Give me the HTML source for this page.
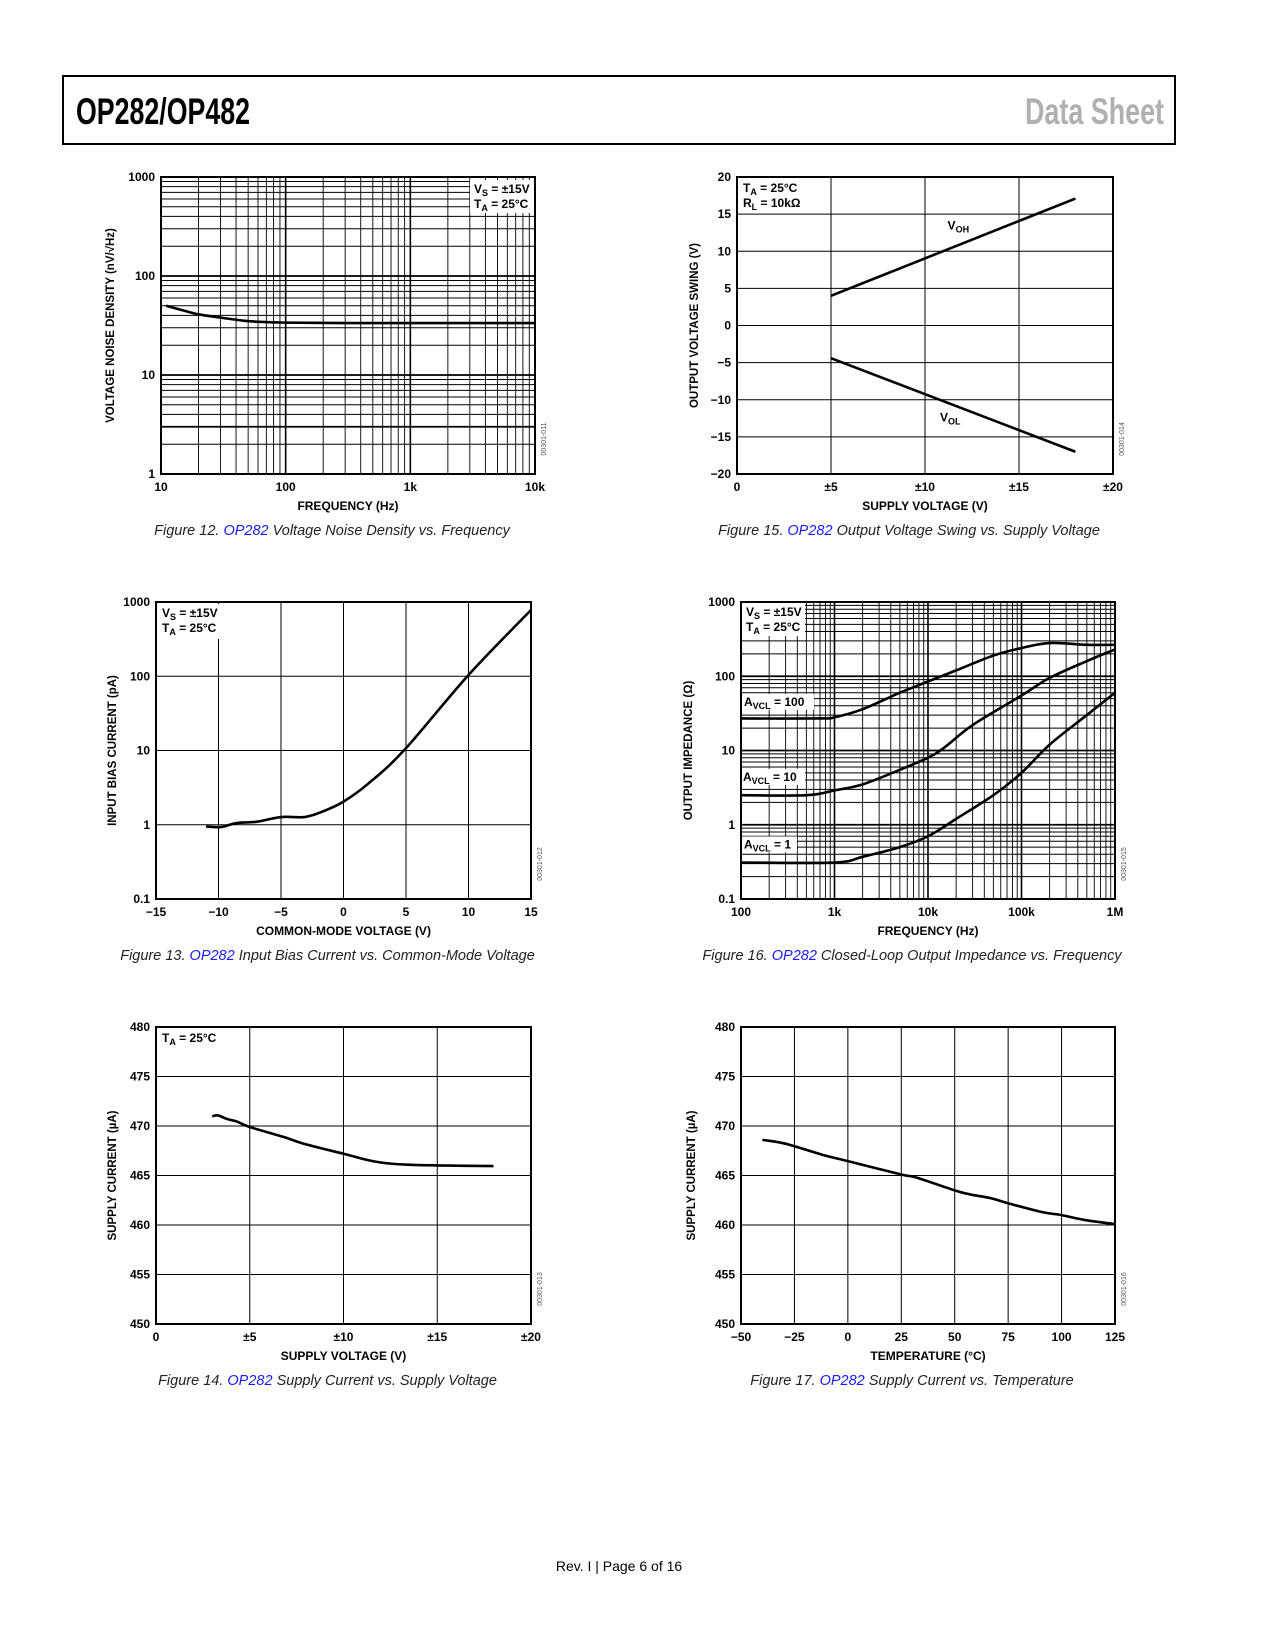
<!DOCTYPE html>
<html><head><meta charset="utf-8">
<style>
html,body{margin:0;padding:0;background:#fff;}
#page{position:relative;width:1275px;height:1650px;overflow:hidden;background:#fff;}
svg text{font-family:"Liberation Sans",Arial,sans-serif;}
</style></head>
<body>
<div id="page">
<svg id="svg" width="1275" height="1650" viewBox="0 0 1275 1650">
  <rect x="63" y="76" width="1112" height="68" fill="none" stroke="#000" stroke-width="2"/>
  <text x="76" y="124" font-size="37" font-weight="bold" textLength="174" lengthAdjust="spacingAndGlyphs">OP282/OP482</text>
  <text x="1025" y="124" font-size="37" font-weight="bold" fill="#b0b0b0" textLength="139" lengthAdjust="spacingAndGlyphs">Data Sheet</text>
  <text x="619" y="1571" font-size="14" text-anchor="middle">Rev. I | Page 6 of 16</text>
</svg>
</div>
<script>
// ---- Figure 12 data: voltage noise density ----
const f12Freq = [11, 15, 20, 30, 45, 60, 100, 300, 1000, 10000];
const f12Noise = [50, 45, 41, 38, 35.5, 34.5, 33.8, 33.5, 33.5, 33.5];
// ---- Figure 15 data: output swing ----
const f15Supply = [5, 18];
const f15Voh = [4, 17.1];
const f15Vol = [-4.4, -17.0];
// ---- Figure 13 data: bias current ----
const f13Vcm = [-11, -9.8, -8.6, -6.9, -5, -3.1, -1.7, 0, 2, 4.9, 10, 15];
const f13Ib = [0.95, 0.93, 1.05, 1.1, 1.27, 1.27, 1.5, 2.05, 3.6, 10.3, 104, 780];
// ---- Figure 16 data: output impedance ----
const f16Freq100 = [100, 700, 1000, 2000, 5000, 10000, 20000, 50000, 100000, 200000, 500000, 1000000];
const f16Z100 = [27, 27, 28, 36, 60, 85, 120, 190, 240, 280, 265, 265];
const f16Freq10 = [100, 500, 1000, 2000, 5000, 10000, 15000, 30000, 100000, 200000, 500000, 1000000];
const f16Z10 = [2.5, 2.5, 2.9, 3.5, 5.5, 8, 11, 22, 55, 95, 160, 230];
const f16Freq1 = [100, 1000, 2000, 5000, 10000, 20000, 50000, 100000, 200000, 500000, 1000000];
const f16Z1 = [0.31, 0.31, 0.37, 0.5, 0.7, 1.2, 2.5, 5, 12, 30, 60];
// ---- Figure 14 data: supply current vs supply voltage ----
const f14Supply = [3.0, 3.3, 3.8, 4.3, 5.0, 6.8, 7.9, 10.0, 11.7, 13.3, 15.6, 18.0];
const f14Current = [470.97, 471.07, 470.7, 470.46, 469.9, 468.9, 468.2, 467.2, 466.4, 466.1, 466.0, 465.95];
// ---- Figure 17 data: supply current vs temperature ----
const f17Temp = [-40, -29, -12, 0, 25, 32, 50, 57, 67, 75, 91, 100, 111, 125];
const f17Current = [468.6, 468.2, 467.1, 466.45, 465.1, 464.8, 463.5, 463.1, 462.7, 462.2, 461.3, 461.0, 460.5, 460.1];
// tick labels
const ticksLog1to1000 = ["1", "10", "100", "1000"];
const ticksFreq12 = ["10", "100", "1k", "10k"];
const ticksLog01 = ["0.1", "1", "10", "100", "1000"];
const ticksFreq16 = ["100", "1k", "10k", "100k", "1M"];
const ticksSwingY = ["20", "15", "10", "5", "0", "\u22125", "\u221210", "\u221215", "\u221220"];
const ticksSupplyX = ["0", "\u00b15", "\u00b110", "\u00b115", "\u00b120"];
const ticksVcm = ["\u221215", "\u221210", "\u22125", "0", "5", "10", "15"];
const ticksCurrentY = ["480", "475", "470", "465", "460", "455", "450"];
const ticksTemp = ["\u221250", "\u221225", "0", "25", "50", "75", "100", "125"];

const NS = "http://www.w3.org/2000/svg";
const svg = document.getElementById("svg");
function mk(tag, attrs, parent) {
  const e = document.createElementNS(NS, tag);
  for (const k in attrs) e.setAttribute(k, attrs[k]);
  (parent || svg).appendChild(e);
  return e;
}
function axisFn(min, max, p0, p1, log) {
  if (log) { const a = Math.log10(min), b = Math.log10(max); return v => p0 + (Math.log10(v) - a) / (b - a) * (p1 - p0); }
  return v => p0 + (v - min) / (max - min) * (p1 - p0);
}
function chart(c) {
  const g = mk("g", {});
  
  
  const X = axisFn(c.xmin, c.xmax, c.x0, c.x1, c.xlog);
  const Y = axisFn(c.ymin, c.ymax, c.y1, c.y0, c.ylog);
  c.X = X; c.Y = Y;
  function gridVals(min, max, log, step, noMinor) {
    const out = [];
    if (log) {
      for (let d = Math.round(Math.log10(min)); d < Math.round(Math.log10(max)); d++)
        for (let k = 1; k <= 9; k++) { if (noMinor && k > 1) continue; out.push({ v: k * Math.pow(10, d), major: k === 1 }); }
      out.push({ v: max, major: true });
    } else {
      for (let v = min; v <= max + 1e-9; v += step) out.push({ v: v, major: false });
    }
    return out;
  }
  gridVals(c.xmin, c.xmax, c.xlog, c.xstep, false).forEach(o => {
    const x = X(o.v);
    const l = mk("line", { x1: x, x2: x, y1: c.y0, y2: c.y1, stroke: "#000", "stroke-width": o.major ? 1.6 : (c.xlog ? 0.9 : 1) }, g);
    
    
  });
  gridVals(c.ymin, c.ymax, c.ylog, c.ystep, c.noMinorY).forEach(o => {
    const y = Y(o.v);
    const thick = (o.major && !c.noMinorY) || (c.thickY && c.thickY.indexOf(o.v) >= 0);
    const l = mk("line", { x1: c.x0, x2: c.x1, y1: y, y2: y, stroke: "#000", "stroke-width": thick ? 1.8 : 1 }, g);
    
    
  });
  if (c.legend) {
    const lb = mk("rect", { x: c.legend.x, y: c.legend.y, width: c.legend.w, height: c.legend.h, fill: "#fff" }, g);
    
    
    c.legend.lines.forEach((html, i) => {
      const t = mk("text", { x: c.legend.x + 4, y: c.legend.y + 13 + i * 15, "font-size": 12, "font-weight": "bold" }, g);
      t.innerHTML = html;
      
      
    });
  }
  const fr = mk("rect", { x: c.x0, y: c.y0, width: c.x1 - c.x0, height: c.y1 - c.y0, fill: "none", stroke: "#000", "stroke-width": 2 }, g);
  
  
  c.xticks.forEach((lab, i) => {
    const v = c.xtickVals[i];
    const t = mk("text", { x: X(v), y: c.y1 + 17, "font-size": 12, "font-weight": "bold", "text-anchor": "middle" }, g);
    t.textContent = lab;
    
    
  });
  c.yticks.forEach((lab, i) => {
    const v = c.ytickVals[i];
    const t = mk("text", { x: c.x0 - 6, y: Y(v) + 4, "font-size": 12, "font-weight": "bold", "text-anchor": "end" }, g);
    t.textContent = lab;
    
    
  });
  const xt = mk("text", { x: (c.x0 + c.x1) / 2, y: c.y1 + 36, "font-size": 12, "font-weight": "bold", "text-anchor": "middle" }, g);
  xt.innerHTML = c.xtitle;
  
  
  const yc = (c.y0 + c.y1) / 2;
  const yt = mk("text", { x: c.x0 - c.ytOff, y: yc, "font-size": 11.5, "font-weight": "bold", "text-anchor": "middle", transform: "rotate(-90 " + (c.x0 - c.ytOff) + " " + yc + ")" }, g);
  yt.innerHTML = c.ytitle;
  
  
  const cx = c.x1 + 11, cy = c.y1 - 35;
  const code = mk("text", { x: cx, y: cy, "font-size": 7, fill: "#555", "text-anchor": "middle", transform: "rotate(-90 " + cx + " " + cy + ")" }, g);
  code.textContent = c.code;
  
  
  const cap = mk("text", { x: (c.x0 + c.x1) / 2 - 16, y: c.y1 + 61, "font-size": 14.5, "font-style": "italic", "text-anchor": "middle", fill: "#222" }, g);
  cap.innerHTML = c.caption;
  
  
  c.g = g;
  return c;
}
function curve(c, xs, ys, name) {
  const pts = xs.map((v, i) => [c.X(v), c.Y(ys[i])]);
  let d = "M" + pts[0][0] + "," + pts[0][1];
  for (let i = 0; i < pts.length - 1; i++) {
    const p0 = pts[Math.max(0, i - 1)], p1 = pts[i], p2 = pts[i + 1], p3 = pts[Math.min(pts.length - 1, i + 2)];
    const c1x = p1[0] + (p2[0] - p0[0]) / 6, c1y = p1[1] + (p2[1] - p0[1]) / 6;
    const c2x = p2[0] - (p3[0] - p1[0]) / 6, c2y = p2[1] - (p3[1] - p1[1]) / 6;
    d += " C" + c1x + "," + c1y + " " + c2x + "," + c2y + " " + p2[0] + "," + p2[1];
  }
  const p = mk("path", { d: d, fill: "none", stroke: "#000", "stroke-width": 2.6, "stroke-linejoin": "round" }, c.g);
  
  
}
function label(c, x, y, html, bg) {
  if (bg) {
    const r = mk("rect", { x: bg[0], y: bg[1], width: bg[2], height: bg[3], fill: "#fff" }, c.g);
    
    
  }
  const t = mk("text", { x: x, y: y, "font-size": 12, "font-weight": "bold" }, c.g);
  t.innerHTML = html;
  
  
}
const sub = (a, s, b) => a + '<tspan dy="3" font-size="9">' + s + '</tspan><tspan dy="-3">' + b + '</tspan>';
const blue = '<tspan fill="#1a1aff">OP282</tspan>';

// Figure 12
const c12 = chart({ name: "figure-12-noise-density", x0: 161, x1: 535, y0: 177, y1: 474, xmin: 10, xmax: 10000, xlog: true, ymin: 1, ymax: 1000, ylog: true,
  thickY: [3, 10], xticks: ticksFreq12, xtickVals: [10, 100, 1000, 10000], yticks: ticksLog1to1000.slice().reverse(), ytickVals: [1000, 100, 10, 1],
  xtitle: "FREQUENCY (Hz)", ytitle: "VOLTAGE NOISE DENSITY (nV/\u221aHz)", ytOff: 47, code: "00301-011",
  legend: { x: 470, y: 180, w: 64, h: 33, lines: [sub("V", "S", " = \u00b115V"), sub("T", "A", " = 25\u00b0C")] },
  caption: "Figure 12. " + blue + " Voltage Noise Density vs. Frequency" });
curve(c12, f12Freq, f12Noise, "noise-density-curve");

// Figure 15
const c15 = chart({ name: "figure-15-output-swing", x0: 737, x1: 1113, y0: 177, y1: 474, xmin: 0, xmax: 20, xstep: 5, ymin: -20, ymax: 20, ystep: 5,
  xticks: ticksSupplyX, xtickVals: [0, 5, 10, 15, 20], yticks: ticksSwingY, ytickVals: [20, 15, 10, 5, 0, -5, -10, -15, -20],
  xtitle: "SUPPLY VOLTAGE (V)", ytitle: "OUTPUT VOLTAGE SWING (V)", ytOff: 39, code: "00301-014",
  legend: { x: 739, y: 179, w: 84, h: 33, lines: [sub("T", "A", " = 25\u00b0C"), sub("R", "L", " = 10k\u03a9")] },
  caption: "Figure 15. " + blue + " Output Voltage Swing vs. Supply Voltage" });
curve(c15, f15Supply, f15Voh, "voh-line");
curve(c15, f15Supply, f15Vol, "vol-line");
label(c15, c15.X(11.2), c15.Y(12.9), sub("V", "OH", ""));
label(c15, c15.X(10.8), c15.Y(-12.9), sub("V", "OL", ""));

// Figure 13
const c13 = chart({ name: "figure-13-bias-current", x0: 156, x1: 531, y0: 602, y1: 899, xmin: -15, xmax: 15, xstep: 5, ymin: 0.1, ymax: 1000, ylog: true, noMinorY: true,
  xticks: ticksVcm, xtickVals: [-15, -10, -5, 0, 5, 10, 15], yticks: ticksLog01.slice().reverse(), ytickVals: [1000, 100, 10, 1, 0.1],
  xtitle: "COMMON-MODE VOLTAGE (V)", ytitle: "INPUT BIAS CURRENT (pA)", ytOff: 40, code: "00301-012",
  legend: { x: 158, y: 604, w: 68, h: 35, lines: [sub("V", "S", " = \u00b115V"), sub("T", "A", " = 25\u00b0C")] },
  caption: "Figure 13. " + blue + " Input Bias Current vs. Common-Mode Voltage" });
curve(c13, f13Vcm, f13Ib, "bias-current-curve");

// Figure 16
const c16 = chart({ name: "figure-16-output-impedance", x0: 741, x1: 1115, y0: 602, y1: 899, xmin: 100, xmax: 1000000, xlog: true, ymin: 0.1, ymax: 1000, ylog: true,
  xticks: ticksFreq16, xtickVals: [100, 1000, 10000, 100000, 1000000], yticks: ticksLog01.slice().reverse(), ytickVals: [1000, 100, 10, 1, 0.1],
  xtitle: "FREQUENCY (Hz)", ytitle: "OUTPUT IMPEDANCE (\u03a9)", ytOff: 49, code: "00301-015",
  legend: { x: 742, y: 603, w: 63, h: 33, lines: [sub("V", "S", " = \u00b115V"), sub("T", "A", " = 25\u00b0C")] },
  caption: "Figure 16. " + blue + " Closed-Loop Output Impedance vs. Frequency" });
curve(c16, f16Freq100, f16Z100, "avcl-100-curve");
curve(c16, f16Freq10, f16Z10, "avcl-10-curve");
curve(c16, f16Freq1, f16Z1, "avcl-1-curve");
label(c16, 744, c16.Y(40), sub("A", "VCL", " = 100"), [742, c16.Y(40) - 12, 72, 16]);
label(c16, 743, c16.Y(3.9), sub("A", "VCL", " = 10"), [742, c16.Y(3.9) - 12, 63, 16]);
label(c16, 744, c16.Y(0.48), sub("A", "VCL", " = 1"), [742, c16.Y(0.48) - 12, 55, 16]);

// Figure 14
const c14 = chart({ name: "figure-14-supply-current-vs-voltage", x0: 156, x1: 531, y0: 1027, y1: 1324, xmin: 0, xmax: 20, xstep: 5, ymin: 450, ymax: 480, ystep: 5,
  xticks: ticksSupplyX, xtickVals: [0, 5, 10, 15, 20], yticks: ticksCurrentY, ytickVals: [480, 475, 470, 465, 460, 455, 450],
  xtitle: "SUPPLY VOLTAGE (V)", ytitle: "SUPPLY CURRENT (\u00b5A)", ytOff: 40, code: "00301-013",
  legend: { x: 158, y: 1029, w: 68, h: 20, lines: [sub("T", "A", " = 25\u00b0C")] },
  caption: "Figure 14. " + blue + " Supply Current vs. Supply Voltage" });
curve(c14, f14Supply, f14Current, "supply-current-voltage-curve");

// Figure 17
const c17 = chart({ name: "figure-17-supply-current-vs-temperature", x0: 741, x1: 1115, y0: 1027, y1: 1324, xmin: -50, xmax: 125, xstep: 25, ymin: 450, ymax: 480, ystep: 5,
  xticks: ticksTemp, xtickVals: [-50, -25, 0, 25, 50, 75, 100, 125], yticks: ticksCurrentY, ytickVals: [480, 475, 470, 465, 460, 455, 450],
  xtitle: "TEMPERATURE (\u00b0C)", ytitle: "SUPPLY CURRENT (\u00b5A)", ytOff: 46, code: "00301-016",
  caption: "Figure 17. " + blue + " Supply Current vs. Temperature" });
curve(c17, f17Temp, f17Current, "supply-current-temperature-curve");
</script>
</body></html>
